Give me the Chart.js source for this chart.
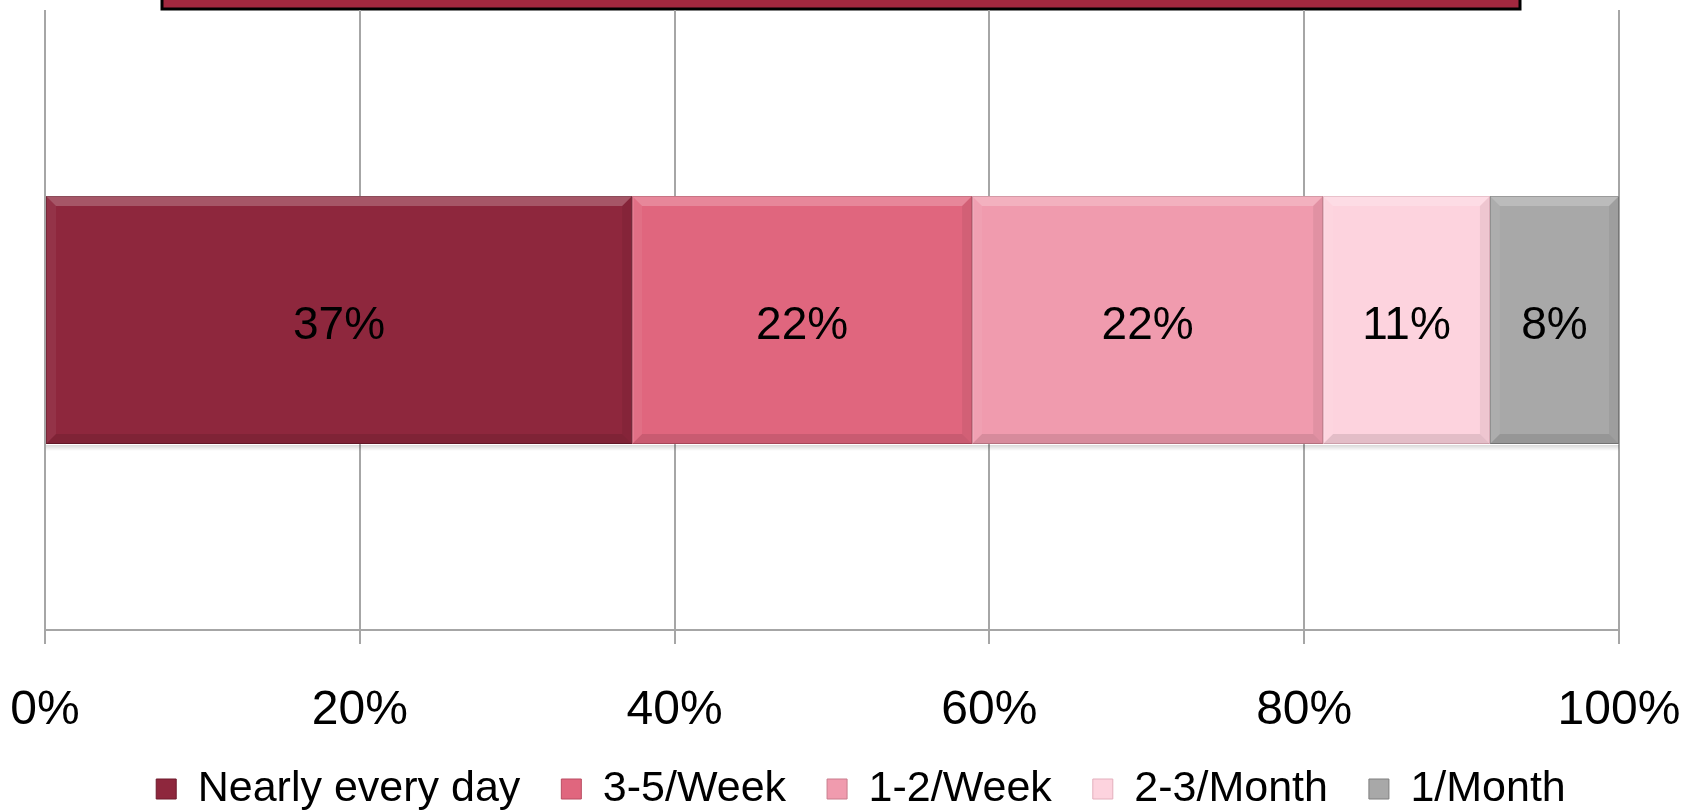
<!DOCTYPE html>
<html>
<head>
<meta charset="utf-8">
<script src="https://cdn.jsdelivr.net/npm/chart.js@4.4.1/dist/chart.umd.min.js"></script>
<style>
  html, body { margin: 0; padding: 0; background: #fff; }
  #wrap { width: 1694px; height: 810px; position: relative; }
</style>
</head>
<body>
<div id="wrap"><canvas id="freqChart"></canvas></div>
<script>
// 데이터
const categories = [''];
const seriesNames = ['Nearly every day', '3-5/Week', '1-2/Week', '2-3/Month', '1/Month'];
const nearlyEveryDay = [37.3];
const week35 = [21.6];
const week12 = [22.3];
const month23 = [10.6];
const month1 = [8.2];
const tickValues = [0, 20, 40, 60, 80, 100];

const fills = ['#8e273d', '#e0667e', '#f09bae', '#fdd3de', '#a8a8a8'];
const edges = ['#6e1a2c', '#b94d62', '#c97d8d', '#e3b0bd', '#7f7f7f'];
const FONT = "'Liberation Sans', Arial, sans-serif";

// 막대 라벨 + 입체감 + 위쪽 잘린 제목 상자
const barDeco = {
    id: 'barDeco',
    beforeDraw(chart) {
        const c = chart.ctx;
        c.save();
        c.fillStyle = '#a2283f';
        c.fillRect(162, -6, 1358, 15);
        c.strokeStyle = '#000';
        c.lineWidth = 3;
        c.strokeRect(162, -6, 1358, 15);
        c.restore();
    },
    afterDatasetsDraw(chart) {
        const c = chart.ctx;
        chart.data.datasets.forEach((ds, i) => {
            chart.getDatasetMeta(i).data.forEach((el, j) => {
                const p = el.getProps(['x', 'y', 'base', 'height'], true);
                const l = Math.min(p.x, p.base), r = Math.max(p.x, p.base);
                const t = p.y - p.height / 2, b = p.y + p.height / 2;
                const s = 10;
                c.save();
                c.fillStyle = 'rgba(255,255,255,0.22)';
                c.beginPath(); c.moveTo(l, t); c.lineTo(r, t); c.lineTo(r - s, t + s); c.lineTo(l + s, t + s); c.fill();
                c.fillStyle = 'rgba(0,0,0,0.10)';
                c.beginPath(); c.moveTo(l, b); c.lineTo(r, b); c.lineTo(r - s, b - s); c.lineTo(l + s, b - s); c.fill();
                c.fillStyle = 'rgba(0,0,0,0.06)';
                c.beginPath(); c.moveTo(r, t); c.lineTo(r, b); c.lineTo(r - s, b - s); c.lineTo(r - s, t + s); c.fill();
                c.fillStyle = 'rgba(255,255,255,0.06)';
                c.beginPath(); c.moveTo(l, t); c.lineTo(l, b); c.lineTo(l + s, b - s); c.lineTo(l + s, t + s); c.fill();
                const g = c.createLinearGradient(0, b, 0, b + 7);
                g.addColorStop(0, 'rgba(0,0,0,0.18)');
                g.addColorStop(1, 'rgba(0,0,0,0)');
                c.fillStyle = g;
                c.fillRect(l, b + 1, r - l, 7);
                c.fillStyle = '#000';
                c.font = '46px ' + FONT;
                c.textAlign = 'center';
                c.textBaseline = 'middle';
                c.fillText(Math.round(ds.data[j]) + '%', (l + r) / 2, p.y + 6);
                c.restore();
            });
        });
    },
    afterLayout(chart) {
        // 범례를 오른쪽으로 조금 이동
        chart.legend.left += 29;
        chart.legend.right += 29;
    }
};

const ctx = document.getElementById('freqChart').getContext('2d');
new Chart(ctx, {
    type: 'bar',
    data: {
        labels: categories,
        datasets: [nearlyEveryDay, week35, week12, month23, month1].map((d, i) => ({
            label: seriesNames[i],
            data: d,
            backgroundColor: fills[i],
            borderColor: edges[i],
            borderWidth: 1,
            borderSkipped: false,
            barPercentage: 0.4,
            categoryPercentage: 1
        }))
    },
    plugins: [barDeco],
    options: {
        indexAxis: 'y',
        responsive: true,
        maintainAspectRatio: false,
        animation: false,
        layout: { padding: { top: 10, left: 45, right: 75, bottom: -10.5 } },
        scales: {
            x: {
                stacked: true,
                min: 0,
                max: 100,
                afterBuildTicks: (s) => { s.ticks = tickValues.map(v => ({ value: v })); },
                ticks: {
                    color: '#000',
                    padding: 0,
                    maxRotation: 0,
                    font: { family: FONT, size: 48, lineHeight: 0.6458 },
                    callback: (v) => v + '%'
                },
                grid: {
                    color: '#a6a6a6',
                    lineWidth: 2,
                    tickLength: 65.5,
                    tickBorderDash: [13, 200]
                },
                border: { color: '#a6a6a6', width: 2 }
            },
            y: {
                stacked: true,
                display: false
            }
        },
        plugins: {
            legend: {
                position: 'bottom',
                labels: {
                    color: '#000',
                    boxWidth: 20,
                    boxHeight: 20,
                    padding: 41,
                    font: { family: FONT, size: 43 }
                }
            },
            tooltip: { enabled: false }
        }
    }
});
</script>
</body>
</html>
